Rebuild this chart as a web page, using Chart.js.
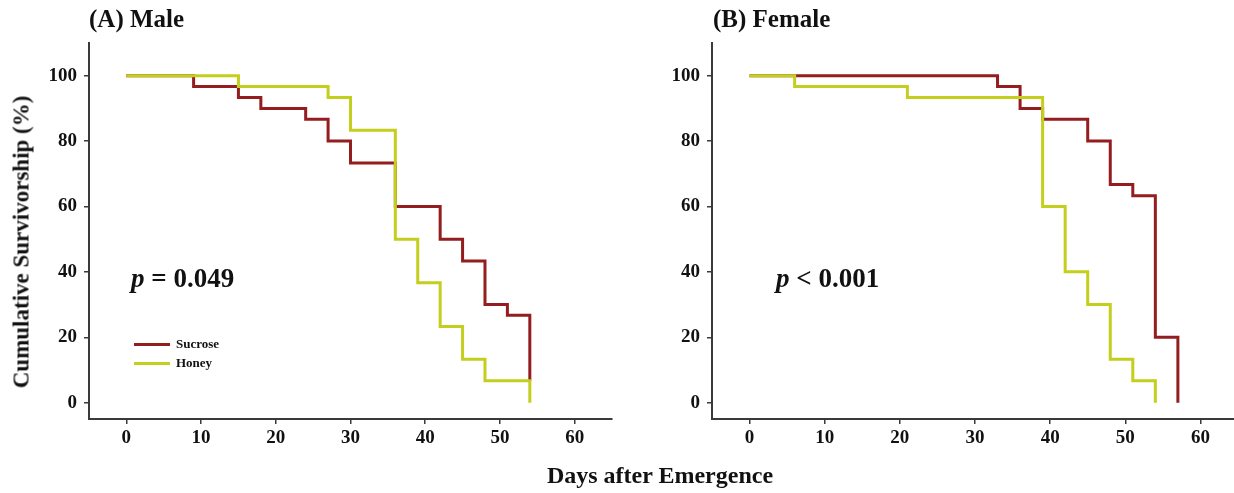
<!DOCTYPE html>
<html>
<head>
<meta charset="utf-8">
<script src="https://cdn.jsdelivr.net/npm/chart.js@4.4.1/dist/chart.umd.min.js"></script>
<style>
    body { margin: 0; background: #fff; overflow: hidden; }
    #wrap { position: relative; width: 1234px; height: 493px; overflow: hidden; font-family: "Liberation Serif", "Times New Roman", serif; font-weight: bold; color: #111; }
    .panel { position: absolute; top: 0; height: 493px; }
    .txt { position: absolute; white-space: nowrap; line-height: 1; }
    .swatch { position: absolute; height: 3px; width: 36px; }
</style>
</head>
<body>
<div id="wrap">
    <div class="panel" style="left:0; width:617px"><canvas id="male"></canvas></div>
    <div class="panel" style="left:617px; width:621px"><canvas id="female"></canvas></div>

    <div class="txt" style="left:89px; top:6px; font-size:25px">(A) Male</div>
    <div class="txt" style="left:713px; top:6px; font-size:25px">(B) Female</div>
    <div class="txt" style="left:21px; top:242px; font-size:23px; transform:translate(-50%,-50%) rotate(-90deg)">Cumulative Survivorship (%)</div>
    <div class="txt" style="left:660px; top:463px; font-size:24px; transform:translateX(-50%)">Days after Emergence</div>

    <div class="txt" style="left:131px; top:265px; font-size:27px"><i>p</i> = 0.049</div>
    <div class="txt" style="left:776px; top:265px; font-size:27px"><i>p</i> &lt; 0.001</div>

    <div class="swatch" id="swS" style="left:134px; top:343px"></div>
    <div class="swatch" id="swH" style="left:134px; top:362px"></div>
    <div class="txt" style="left:176px; top:337px; font-size:13px">Sucrose</div>
    <div class="txt" style="left:176px; top:356px; font-size:13px">Honey</div>
</div>

<script>
// Kaplan-Meier steps: day of each drop and survivorship after it
const maleSucroseDays = [0, 9, 15, 18, 24, 27, 30, 36, 42, 45, 48, 51, 54]
const maleSucroseSurv = [100, 96.7, 93.3, 90, 86.7, 80, 73.3, 60, 50, 43.3, 30, 26.7, 6.7]
const maleHoneyDays = [0, 15, 27, 30, 36, 39, 42, 45, 48, 54]
const maleHoneySurv = [100, 96.7, 93.3, 83.3, 50, 36.7, 23.3, 13.3, 6.7, 0]

const femaleSucroseDays = [0, 33, 36, 39, 45, 48, 51, 54, 57]
const femaleSucroseSurv = [100, 96.7, 90, 86.7, 80, 66.7, 63.3, 20, 0]
const femaleHoneyDays = [0, 6, 21, 39, 42, 45, 48, 51, 54]
const femaleHoneySurv = [100, 96.7, 93.3, 60, 40, 30, 13.3, 6.7, 0]

const xTicks = [0, 10, 20, 30, 40, 50, 60]
const yTicks = [0, 20, 40, 60, 80, 100]

const sucroseColor = '#941d1f'
const honeyColor = '#c4ce1c'
const axisColor = '#3a3a3a'

document.getElementById('swS').style.background = sucroseColor
document.getElementById('swH').style.background = honeyColor

function toPoints(days, surv) {
    return days.map((d, i) => ({ x: d, y: surv[i] }))
}

function SurvivalChart(id, sucrose, honey, axisLeft, padRight) {
    let tickFont = { family: '"Liberation Serif", "Times New Roman", serif', weight: 'bold', size: 19 }
    let ctx = document.getElementById(id)
    return new Chart(ctx, {
        type: 'line',
        data: {
            datasets: [{
                label: 'Sucrose',
                data: sucrose,
                borderColor: sucroseColor,
                borderWidth: 3,
                stepped: true,
                pointRadius: 0,
                order: 1
            }, {
                label: 'Honey',
                data: honey,
                borderColor: honeyColor,
                borderWidth: 3,
                stepped: true,
                pointRadius: 0,
                order: 0
            }]
        },
        options: {
            responsive: false,
            animation: false,
            events: [],
            layout: { padding: { left: 0, top: 43, right: padRight, bottom: 0 } },
            scales: {
                x: {
                    type: 'linear',
                    min: -5,
                    max: 65,
                    afterBuildTicks: scale => { scale.ticks = xTicks.map(v => ({ value: v })) },
                    afterFit: scale => { scale.height = 74 },
                    grid: { display: true, drawOnChartArea: false, drawTicks: true, tickLength: 5, color: axisColor, lineWidth: 1.5 },
                    border: { display: true, color: axisColor, width: 2 },
                    ticks: { font: tickFont, color: '#111', padding: 3, maxRotation: 0 }
                },
                y: {
                    min: -5,
                    max: 110,
                    afterBuildTicks: scale => { scale.ticks = yTicks.map(v => ({ value: v })) },
                    afterFit: scale => { scale.width = axisLeft },
                    grid: { display: true, drawOnChartArea: false, drawTicks: true, tickLength: 5, color: axisColor, lineWidth: 1.5 },
                    border: { display: true, color: axisColor, width: 2 },
                    ticks: { font: tickFont, color: '#111', padding: 7 }
                }
            },
            plugins: {
                legend: { display: false },
                tooltip: { enabled: false }
            }
        }
    })
}

let male = document.getElementById('male')
male.width = 617; male.height = 493
let female = document.getElementById('female')
female.width = 621; female.height = 493

SurvivalChart('male', toPoints(maleSucroseDays, maleSucroseSurv), toPoints(maleHoneyDays, maleHoneySurv), 89, 5)
SurvivalChart('female', toPoints(femaleSucroseDays, femaleSucroseSurv), toPoints(femaleHoneyDays, femaleHoneySurv), 95, 0)
</script>
</body>
</html>
